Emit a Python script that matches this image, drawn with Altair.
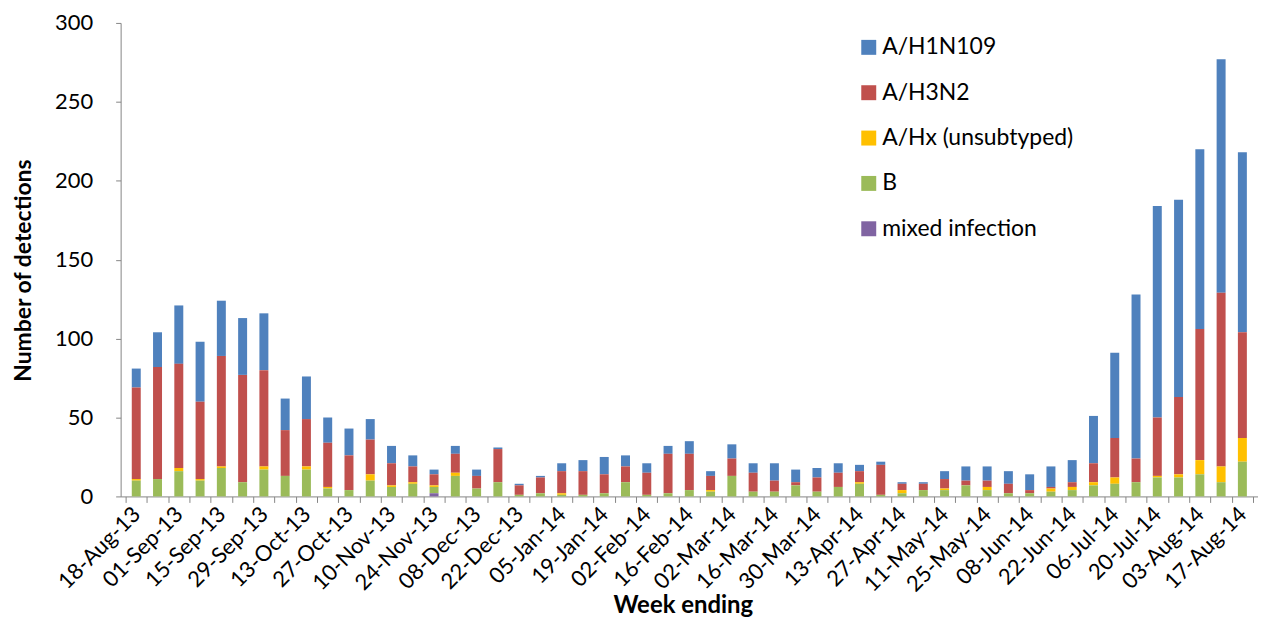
import json
import altair as alt
import pandas as pd

weeks = [
    "18-Aug-13", "25-Aug-13", "01-Sep-13", "08-Sep-13", "15-Sep-13", "22-Sep-13",
    "29-Sep-13", "06-Oct-13", "13-Oct-13", "20-Oct-13", "27-Oct-13", "03-Nov-13",
    "10-Nov-13", "17-Nov-13", "24-Nov-13", "01-Dec-13", "08-Dec-13", "15-Dec-13",
    "22-Dec-13", "29-Dec-13", "05-Jan-14", "12-Jan-14", "19-Jan-14", "26-Jan-14",
    "02-Feb-14", "09-Feb-14", "16-Feb-14", "23-Feb-14", "02-Mar-14", "09-Mar-14",
    "16-Mar-14", "23-Mar-14", "30-Mar-14", "06-Apr-14", "13-Apr-14", "20-Apr-14",
    "27-Apr-14", "04-May-14", "11-May-14", "18-May-14", "25-May-14", "01-Jun-14",
    "08-Jun-14", "15-Jun-14", "22-Jun-14", "29-Jun-14", "06-Jul-14", "13-Jul-14",
    "20-Jul-14", "27-Jul-14", "03-Aug-14", "10-Aug-14", "17-Aug-14",
]

h1n1 = [12, 22, 37, 38, 35, 36, 36, 20, 27, 16, 17, 13, 11, 7, 3, 5, 4, 1, 1, 1,
        5, 7, 11, 7, 6, 5, 8, 3, 9, 6, 11, 8, 6, 6, 4, 2, 1, 1, 5, 9,
        9, 8, 10, 13, 14, 30, 54, 104, 134, 125, 114, 148, 114]
h3n2 = [58, 71, 66, 49, 70, 68, 61, 29, 30, 28, 22, 22, 14, 10, 7, 12, 8, 21, 6, 10,
        14, 15, 12, 10, 14, 25, 23, 9, 11, 12, 7, 2, 9, 9, 7, 19, 4, 4, 6, 3,
        4, 6, 2, 1, 3, 12, 25, 15, 37, 49, 83, 110, 67]
hx = [1, 0, 2, 1, 1, 0, 2, 0, 2, 1, 0, 4, 1, 1, 1, 2, 0, 0, 0, 0,
      1, 0, 0, 0, 0, 0, 0, 1, 0, 0, 0, 0, 0, 0, 1, 0, 2, 0, 1, 0,
      2, 0, 0, 2, 2, 2, 4, 0, 1, 2, 9, 10, 15]
b = [10, 11, 16, 10, 18, 9, 17, 13, 17, 5, 4, 10, 6, 8, 4, 13, 5, 9, 1, 2,
     1, 1, 2, 9, 1, 2, 4, 3, 13, 3, 3, 7, 3, 6, 8, 1, 2, 4, 4, 7,
     4, 2, 2, 3, 4, 7, 8, 9, 12, 12, 14, 9, 22]
mixed = [0] * 14 + [2] + [0] * 38

series = ["A/H1N109", "A/H3N2", "A/Hx (unsubtyped)", "B", "mixed infection"]
colors = ["#4F81BD", "#C0504D", "#FFC000", "#9BBB59", "#8064A2"]
stack_rank = [4, 3, 2, 1, 0]
y_ticks = [0, 50, 100, 150, 200, 250, 300]

rows = []
for i, w in enumerate(weeks):
    for s, vals, r in zip(series, [h1n1, h3n2, hx, b, mixed], stack_rank):
        rows.append({"idx": i, "week": w, "series": s, "count": vals[i], "rank": r})
df = pd.DataFrame(rows)

n = len(weeks)
tick_vals = [k - 0.5 for k in range(n + 1)]
shown = [w if i % 2 == 0 else "" for i, w in enumerate(weeks)]
label_expr = json.dumps(shown) + "[round(datum.value + 0.5)] || ''"

W, H = 1141, 475
step = W / n
FONT = "Lato"
GRAY = "#868686"

chart = (
    alt.Chart(df)
    .mark_bar(orient="vertical", size=9)
    .encode(
        x=alt.X(
            "idx:Q",
            scale=alt.Scale(domain=[-0.5, n - 0.5], nice=False, zero=False),
            axis=alt.Axis(
                values=tick_vals,
                labelExpr=label_expr,
                labelAngle=-45,
                labelAlign="right",
                labelBaseline="middle",
                labelOffset=step / 2,
                labelOverlap=False,
                labelFlush=False,
                labelPadding=8,
                labelFont=FONT,
                labelFontSize=22,
                labelColor="#000000",
                tickSize=6,
                tickColor=GRAY,
                domainColor=GRAY,
                grid=False,
                title="Week ending",
                titleFont=FONT,
                titleFontSize=24,
                titleFontWeight="bold",
                titleColor="#000000",
                titleX=564,
                titleY=97,
            ),
        ),
        y=alt.Y(
            "count:Q",
            stack="zero",
            scale=alt.Scale(domain=[0, 300], nice=False),
            axis=alt.Axis(
                values=y_ticks,
                labelFont=FONT,
                labelFontSize=22,
                labelColor="#000000",
                labelPadding=23,
                tickSize=5,
                tickColor=GRAY,
                domainColor=GRAY,
                grid=False,
                title="Number of detections",
                titleFont=FONT,
                titleFontSize=23,
                titleFontWeight="bold",
                titleColor="#000000",
                titlePadding=19,
                titleY=248,
            ),
        ),
        color=alt.Color(
            "series:N",
            scale=alt.Scale(domain=series, range=colors),
            legend=alt.Legend(
                orient="none",
                legendX=739,
                legendY=13,
                title=None,
                symbolType="square",
                symbolSize=225,
                symbolStrokeWidth=0,
                symbolOpacity=1,
                labelFont=FONT,
                labelFontSize=23,
                labelLimit=0,
                labelColor="#000000",
                labelOffset=2,
                rowPadding=21.5,
                padding=0,
            ),
        ),
        order=alt.Order("rank:Q", sort="ascending"),
    )
    .properties(
        width=W,
        height=H,
        autosize=alt.AutoSizeParams(type="none"),
        padding={"left": 113, "top": 14, "right": 0, "bottom": 123},
    )
    .configure_view(stroke=None)
)

chart.save("out.html", embed_options={"renderer": "svg", "actions": False})
